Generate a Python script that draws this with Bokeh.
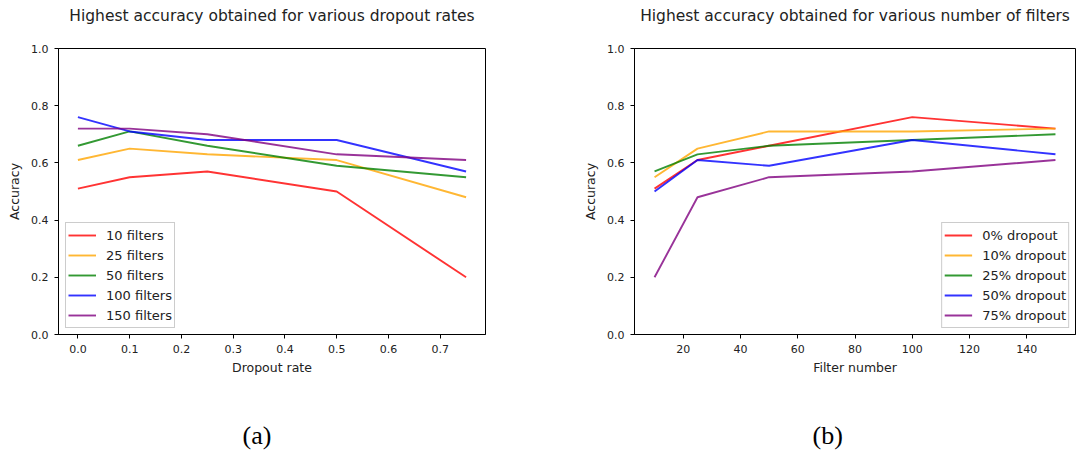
from bokeh.plotting import figure
from bokeh.layouts import row
from bokeh.models import FixedTicker, NumeralTickFormatter, Legend, LegendItem, Title, Range1d
from bokeh.embed import file_html
from bokeh.resources import INLINE

# ---- data ----
dropout_rates = [0.0, 0.1, 0.25, 0.5, 0.75]
filter_numbers = [10, 25, 50, 100, 150]

acc_10_filters = [0.51, 0.55, 0.57, 0.50, 0.20]
acc_25_filters = [0.61, 0.65, 0.63, 0.61, 0.48]
acc_50_filters = [0.66, 0.71, 0.66, 0.59, 0.55]
acc_100_filters = [0.76, 0.71, 0.68, 0.68, 0.57]
acc_150_filters = [0.72, 0.72, 0.70, 0.63, 0.61]

acc_0_dropout = [0.51, 0.61, 0.66, 0.76, 0.72]
acc_10_dropout = [0.55, 0.65, 0.71, 0.71, 0.72]
acc_25_dropout = [0.57, 0.63, 0.66, 0.68, 0.70]
acc_50_dropout = [0.50, 0.61, 0.59, 0.68, 0.63]
acc_75_dropout = [0.20, 0.48, 0.55, 0.57, 0.61]

left_labels = ["10 filters", "25 filters", "50 filters", "100 filters", "150 filters"]
right_labels = ["0% dropout", "10% dropout", "25% dropout", "50% dropout", "75% dropout"]
colors = ["red", "orange", "green", "blue", "purple"]

left_ticks = [0.0, 0.1, 0.2, 0.3, 0.4, 0.5, 0.6, 0.7]
right_ticks = [20, 40, 60, 80, 100, 120, 140]
y_ticks = [0.0, 0.2, 0.4, 0.6, 0.8, 1.0]

FONT = "DejaVu Sans"
TXT = "#222222"
H = 450
TOP = 48
BOTTOM = 115


def spacer(gap):
    return Title(text=" ", text_font_size="1px", standoff=gap, text_color="white")


def make_fig(title, xlabel, x_range, xticks, xfmt, series, xs, labels, legend_loc,
             caption, width, bl, br, cap_off):
    p = figure(width=width, height=H, output_backend="svg", toolbar_location=None,
               x_range=x_range, y_range=Range1d(0, 1),
               min_border_left=bl, min_border_right=br, min_border_top=TOP,
               min_border_bottom=BOTTOM)
    p.grid.visible = False
    p.outline_line_color = "black"
    p.outline_line_alpha = 1
    p.outline_line_width = 1
    p.background_fill_color = "white"
    p.border_fill_color = "white"

    for ax in (p.xaxis[0], p.yaxis[0]):
        ax.axis_line_color = "black"
        ax.major_tick_line_color = "black"
        ax.major_tick_out = 4
        ax.major_tick_in = 0
        ax.minor_tick_line_color = None
        ax.major_label_text_font = FONT
        ax.major_label_text_font_size = "11px"
        ax.major_label_text_color = TXT
        ax.axis_label_text_font = FONT
        ax.axis_label_text_font_size = "12.5px"
        ax.axis_label_text_font_style = "normal"
        ax.axis_label_text_color = TXT

    p.xaxis.ticker = FixedTicker(ticks=xticks)
    p.xaxis.formatter = NumeralTickFormatter(format=xfmt)
    p.xaxis.axis_label = xlabel
    p.xaxis.major_label_standoff = 6
    p.xaxis.axis_label_standoff = 4
    p.yaxis.ticker = FixedTicker(ticks=y_ticks)
    p.yaxis.formatter = NumeralTickFormatter(format="0.0")
    p.yaxis.axis_label = "Accuracy"
    p.yaxis.major_label_standoff = 6
    p.yaxis.axis_label_standoff = 6

    items = []
    for ys, c, lab in zip(series, colors, labels):
        r = p.line(xs, ys, line_color=c, line_width=1.9, line_alpha=0.8)
        items.append(LegendItem(label=lab, renderers=[r]))
    leg = Legend(items=items, location=legend_loc, glyph_width=28, glyph_height=20,
                 label_height=20, spacing=0, padding=2, margin=0, label_standoff=10,
                 label_text_font=FONT, label_text_font_size="13px", label_text_color=TXT,
                 border_line_color="#cccccc", border_line_alpha=1,
                 background_fill_alpha=0.8)
    p.add_layout(leg, "center")

    # title: spacer next to the frame, then the title text
    p.add_layout(spacer(21), "above")
    p.add_layout(Title(text=title, align="center", text_font=FONT,
                       text_font_size="15.5px", text_font_style="normal",
                       text_color=TXT, standoff=0), "above")
    # caption below the axis
    p.add_layout(spacer(37), "below")
    p.add_layout(Title(text=caption, align="left", offset=cap_off,
                       text_font="Liberation Serif", text_font_size="26px",
                       text_font_style="normal", text_color="black", standoff=2),
                 "below")
    return p


p1 = make_fig("Highest accuracy obtained for various dropout rates", "Dropout rate",
              Range1d(-0.0375, 0.7875), left_ticks, "0.0",
              [acc_10_filters, acc_25_filters, acc_50_filters, acc_100_filters, acc_150_filters],
              dropout_rates, left_labels, (7, 6), "(a)", 541, 58, 56, 184)
p2 = make_fig("Highest accuracy obtained for various number of filters", "Filter number",
              Range1d(3, 157), right_ticks, "0",
              [acc_0_dropout, acc_10_dropout, acc_25_dropout, acc_50_dropout, acc_75_dropout],
              filter_numbers, right_labels, "bottom_right", "(b)", 541, 93, 7, 178)
p2.legend[0].margin = 6

layout = row(p1, p2)
open("out.html", "w").write(file_html(layout, INLINE))
